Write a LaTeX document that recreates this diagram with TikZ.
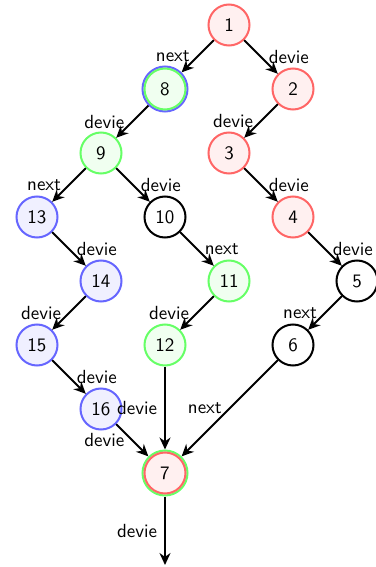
\documentclass[tikz,border=0pt]{standalone}
\usepackage{tikz}
\usetikzlibrary{positioning, arrows.meta}

\begin{document}
\begin{tikzpicture}[node distance=32pt,
    font=\sffamily\fontsize{9.5}{10}\selectfont,
    >={Stealth[length=6pt, width=5.5pt]},
    vtx/.style={circle, line width=1pt, minimum size=20.5pt, inner sep=0pt},
    redv/.style={vtx, draw=red!60, fill=red!6},
    greenv/.style={vtx, draw=green!60, fill=green!6},
    bluev/.style={vtx, draw=blue!60, fill=blue!6},
    plainv/.style={vtx, draw=black, fill=white},
    ringv/.style={vtx, minimum size=22.5pt},
    tag/.style={inner sep=3.5pt},
    link/.style={->, line width=0.9pt}]
    \useasboundingbox (-114.5pt,12.5pt) rectangle (73pt,-271pt);

    % Nodes
    \node (n1) [redv] at (0,0) {1};
    \node (n8) [ringv, draw=blue!60, fill=green!6, below of=n1, xshift=-32pt] {8};
    \node (n2) [redv, below of=n1, xshift=32pt] {2};
    \node (n9) [greenv, below of=n8, xshift=-32pt] {9};
    \node (n3) [redv, below of=n2, xshift=-32pt] {3};
    \node (n13) [bluev, below of=n9, xshift=-32pt] {13};
    \node (n10) [plainv, below of=n9, xshift=32pt] {10};
    \node (n4) [redv, below of=n3, xshift=32pt] {4};
    \node (n14) [bluev, below of=n13, xshift=32pt] {14};
    \node (n11) [greenv, below of=n10, xshift=32pt] {11};
    \node (n5) [plainv, below of=n4, xshift=32pt] {5};
    \node (n15) [bluev, below of=n14, xshift=-32pt] {15};
    \node (n12) [greenv, below of=n11, xshift=-32pt] {12};
    \node (n6) [plainv, below of=n5, xshift=-32pt] {6};
    \node (n16) [bluev, below of=n15, xshift=32pt] {16};
    \node (n7) [ringv, draw=green!60, fill=red!6, below of=n16, xshift=32pt] {7};
    \coordinate [below of=n7, yshift=-14pt] (out);

    % inner rings
    \draw[green!60, line width=1pt] (n8.center) circle (10.25pt);
    \draw[red!60, line width=1pt] (n7.center) circle (10.25pt);

    % Arrows
    \draw[link] (n1) -- node[tag, midway, left] {next} (n8);
    \draw[link] (n1) -- node[tag, midway, right] {devie} (n2);
    \draw[link] (n8) -- node[tag, midway, left] {devie} (n9);
    \draw[link] (n2) -- node[tag, midway, left] {devie} (n3);
    \draw[link] (n9) -- node[tag, midway, left] {next} (n13);
    \draw[link] (n9) -- node[tag, midway, right] {devie} (n10);
    \draw[link] (n3) -- node[tag, midway, right] {devie} (n4);
    \draw[link] (n13) -- node[tag, midway, right] {devie} (n14);
    \draw[link] (n10) -- node[tag, midway, right] {next} (n11);
    \draw[link] (n4) -- node[tag, midway, right] {devie} (n5);
    \draw[link] (n14) -- node[tag, midway, left] {devie} (n15);
    \draw[link] (n11) -- node[tag, midway, left] {devie} (n12);
    \draw[link] (n5) -- node[tag, midway, left] {next} (n6);
    \draw[link] (n15) -- node[tag, midway, right] {devie} (n16);
    \draw[link] (n12) -- node[tag, midway, left] {devie} (n7);
    \draw[link] (n16) -- node[tag, midway, left] {devie} (n7);
    \draw[link] (n6) -- node[tag, midway, left] {next} (n7);
    \draw[link] (n7) -- node[tag, midway, left] {devie} (out);
\end{tikzpicture}
\end{document}
